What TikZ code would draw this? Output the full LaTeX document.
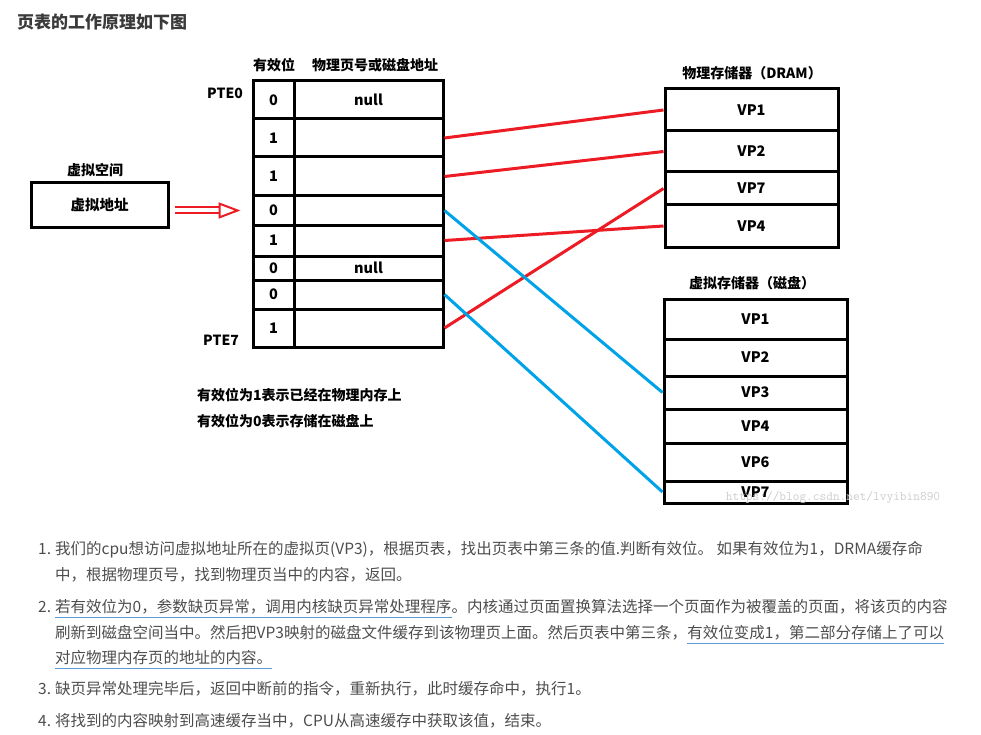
\documentclass[tikz,border=0pt]{standalone}
\usepackage{fontspec}
\setmainfont{Noto Sans CJK SC}
\usepackage{xcolor}
\usepackage{tikz}
\usetikzlibrary{positioning, arrows.meta}
\definecolor{paintRed}{HTML}{ED1C24}
\definecolor{paintBlue}{HTML}{00A2E8}
\definecolor{titleGray}{HTML}{3A3A3A}
\definecolor{bodyGray}{HTML}{4D4D4D}
\definecolor{linkBlue}{HTML}{5B9BD5}

\begin{document}
\begin{tikzpicture}[x=1pt, y=-1pt,
    cell/.style={draw, line width=3pt, inner sep=0pt, font=\fontsize{14.5}{16}\selectfont\bfseries},
    lbl/.style={font=\fontsize{14}{16}\selectfont\bfseries, inner sep=0pt},
    listtext/.style={font=\fontsize{15.5}{18}\selectfont, text=bodyGray, inner sep=0pt, anchor=base west},
    mapred/.style={paintRed, line width=3pt},
    mapblue/.style={paintBlue, line width=3pt}]
  \useasboundingbox (0,0) rectangle (981,735);
  % Title
  \node[anchor=west, inner sep=0pt, text=titleGray, font=\fontsize{17}{20}\selectfont\bfseries]
    (title) at (17,22) {页表的工作原理如下图};

  % Virtual space
  \node[lbl] (vspace) at (95,170) {虚拟空间};
  \node[cell, minimum width=137pt, minimum height=44pt] (vaddr) at (99.5,205) {虚拟地址};

  % Page table
  \node[lbl] (validhead) at (274,65) {有效位};
  \node[lbl] (addrhead) at (375,65) {物理页号或磁盘地址};
  \foreach \i/\yc/\h/\bit/\addr in {0/100/38/0/null, 1/138/38/1/{}, 2/176.5/39/1/{},
      3/210.5/29/0/{}, 4/240.5/31/1/{}, 5/268/24/0/null, 6/294.5/29/0/{}, 7/328/38/1/{}}
  {
    \node[cell, minimum width=41pt, minimum height=\h pt] (b\i) at (273.5,\yc) {\bit};
    \node[cell, minimum width=149pt, minimum height=\h pt] (a\i) at (368.5,\yc) {\addr};
  }
  \node[lbl] (pte0) at (225,93) {PTE0};
  \node[lbl] (pte7) at (221,340) {PTE7};

  % Notes under the table
  \node[lbl, anchor=west] (note1) at (197,395) {有效位为1表示已经在物理内存上};
  \node[lbl, anchor=west] (note2) at (197,421) {有效位为0表示存储在磁盘上};

  % Physical memory
  \node[lbl] (dramhead) at (752,73) {物理存储器（DRAM）};
  \foreach \i/\yc/\h/\vp in {1/110/42/VP1, 2/151.5/41/VP2, 3/188.5/33/VP7, 4/226/42/VP4}
    \node[cell, minimum width=173pt, minimum height=\h pt] (m\i) at (751.5,\yc) {\vp};

  % Disk
  \node[lbl] (diskhead) at (752,283) {虚拟存储器（磁盘）};
  \foreach \i/\yc/\h/\vp in {1/319/40/VP1, 2/357.5/37/VP2, 3/392.5/33/VP3,
      4/426/34/VP4, 5/462/38/VP6, 6/492/22/VP7}
    \node[cell, minimum width=183pt, minimum height=\h pt] (d\i) at (755.5,\yc) {\vp};

  % Mappings
  \draw[mapred] (a1.east) -- (m1.west);
  \draw[mapred] (a2.east) -- (m2.west);
  \draw[mapred] (a4.east) -- (m4.west);
  \draw[mapred] (a7.east) -- (m3.west);
  \draw[mapblue] (a3.east) -- (d3.west);
  \draw[mapblue] (a6.east) -- (d6.west);

  % Lookup arrow
  \draw[paintRed, line width=2pt, double=white, double distance=4pt,
    -{Triangle[open, length=22pt, width=16pt]}, shorten <=5pt, shorten >=11pt]
    (vaddr.east |- b3.west) -- (b3.west);

  % Watermark
  \node[text=gray!40, font=\fontsize{13}{15}\selectfont\ttfamily] (wm) at (833,497)
    {https://blog.csdn.net/lvyibin890};

  % Steps
  \node[listtext] (n1) at (38,554) {1.};
  \node[listtext] (l1a) at (55,554)
    {我们的cpu想访问虚拟地址所在的虚拟页(VP3)，根据页表，找出页表中第三条的值.判断有效位。 如果有效位为1，DRMA缓存命};
  \node[listtext] (l1b) at (55,580) {中，根据物理页号，找到物理页当中的内容，返回。};
  \node[listtext] (n2) at (38,612) {2.};
  \node[listtext] (l2a) at (55,612) {若有效位为0，参数缺页异常，调用内核缺页异常处理程序};
  \node[listtext] (l2a2) at (l2a.base east) {。内核通过页面置换算法选择一个页面作为被覆盖的页面，将该页的内容};
  \node[listtext] (l2b) at (55,638) {刷新到磁盘空间当中。然后把VP3映射的磁盘文件缓存到该物理页上面。然后页表中第三条，};
  \node[listtext] (l2b2) at (l2b.base east) {有效位变成1，第二部分存储上了可以};
  \node[listtext] (l2c) at (55,663) {对应物理内存页的地址的内容。};
  \node[listtext] (n3) at (38,694) {3.};
  \node[listtext] (l3) at (55,694) {缺页异常处理完毕后，返回中断前的指令，重新执行，此时缓存命中，执行1。};
  \node[listtext] (n4) at (38,726) {4.};
  \node[listtext] (l4) at (55,726) {将找到的内容映射到高速缓存当中，CPU从高速缓存中获取该值，结束。};
  % Underlines
  \draw[linkBlue, line width=0.8pt] ([yshift=-5pt]l2a.base west) -- ([yshift=-5pt]l2a.base east);
  \draw[linkBlue, line width=0.8pt] ([yshift=-5pt]l2b2.base west) -- ([yshift=-5pt]l2b2.base east);
  \draw[linkBlue, line width=0.8pt] ([yshift=-5pt]l2c.base west) -- ([yshift=-5pt]l2c.base east);
\end{tikzpicture}
\end{document}
